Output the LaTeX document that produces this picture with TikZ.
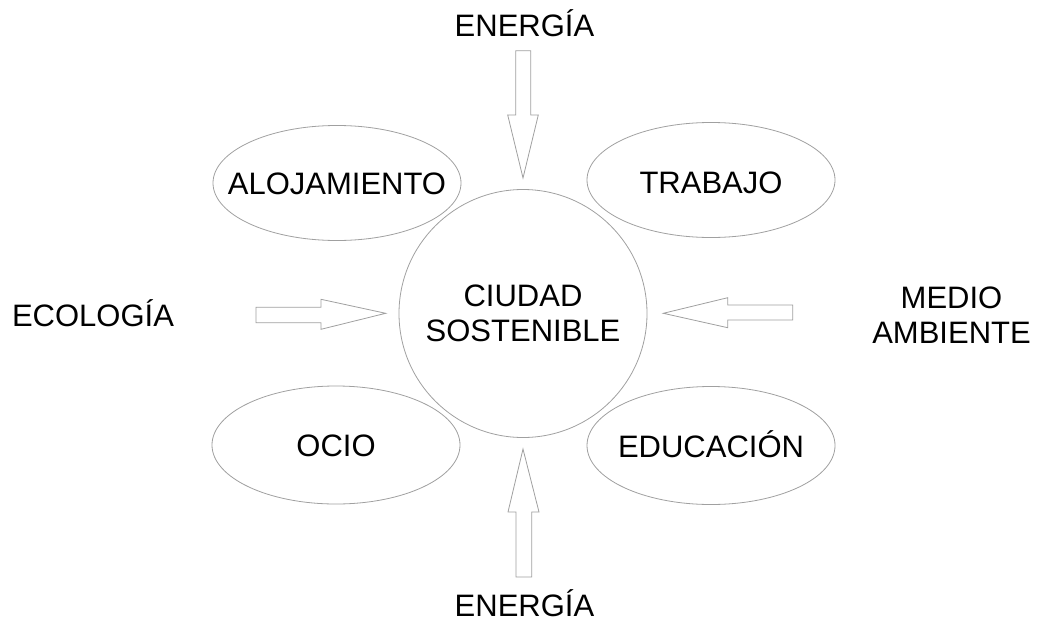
\documentclass[tikz,border=0pt]{standalone}
\usepackage{fontspec}
\setmainfont{Liberation Sans}
\usetikzlibrary{shapes.geometric}
\definecolor{linegray}{HTML}{A0A0A0}
\tikzset{
  txt/.style={font=\fontsize{31}{35.5}\selectfont, inner sep=0pt, text=black},
  bub/.style={draw=linegray, line width=0.8pt, ellipse, minimum width=248pt, minimum height=115pt, inner sep=0pt},
  inlbl/.style={txt, text height=22pt, text depth=0pt},
  blockarrow/.style={draw=linegray, fill=white, line width=0.8pt, line join=miter},
}
\begin{document}
\begin{tikzpicture}[x=1pt,y=-1pt]
\useasboundingbox (0,0) rectangle (1041,621);
% central circle
\node[draw=linegray, line width=0.8pt, circle, minimum size=248pt, inner sep=0pt, txt, align=center] (city) at (523,313.5) {CIUDAD\\SOSTENIBLE};
% ellipses
\node[bub, label={[inlbl]center:ALOJAMIENTO}] (aloj) at (337,183) {};
\node[bub, label={[inlbl, yshift=-2pt]center:TRABAJO}] (trab) at (711,180) {};
\node[bub, minimum height=118pt, label={[inlbl]center:OCIO}] (ocio) at (336,445) {};
\node[bub, minimum height=118pt, label={[inlbl, yshift=-1pt]center:EDUCACIÓN}] (educ) at (711,445.5) {};
% outer labels
\node[txt, anchor=base] (enTop) at (524.5,36) {ENERGÍA};
\node[txt, anchor=base] (enBot) at (524.5,616) {ENERGÍA};
\node[txt, anchor=base] (eco) at (93,326.7) {ECOLOGÍA};
\node[txt, align=center] (medio) at (951.5,315) {MEDIO\\AMBIENTE};
% block arrows
\draw[blockarrow] (515.7,50.7) -- (530.7,50.7) -- (530.7,115) -- (538.3,115) -- (523,178) -- (507.7,115) -- (515.7,115) -- cycle;
\draw[blockarrow] (516,577) -- (531.7,577) -- (531.7,512) -- (539,512) -- (523,449) -- (508,512) -- (516,512) -- cycle;
\draw[blockarrow] (256,307.3) -- (321,307.3) -- (321,299.3) -- (385.7,313.3) -- (321,329.3) -- (321,322.7) -- (256,322.7) -- cycle;
\draw[blockarrow] (792.7,305) -- (727.7,305) -- (727.7,297.7) -- (663.3,313.3) -- (727.7,327.7) -- (727.7,320) -- (792.7,320) -- cycle;
\end{tikzpicture}
\end{document}
